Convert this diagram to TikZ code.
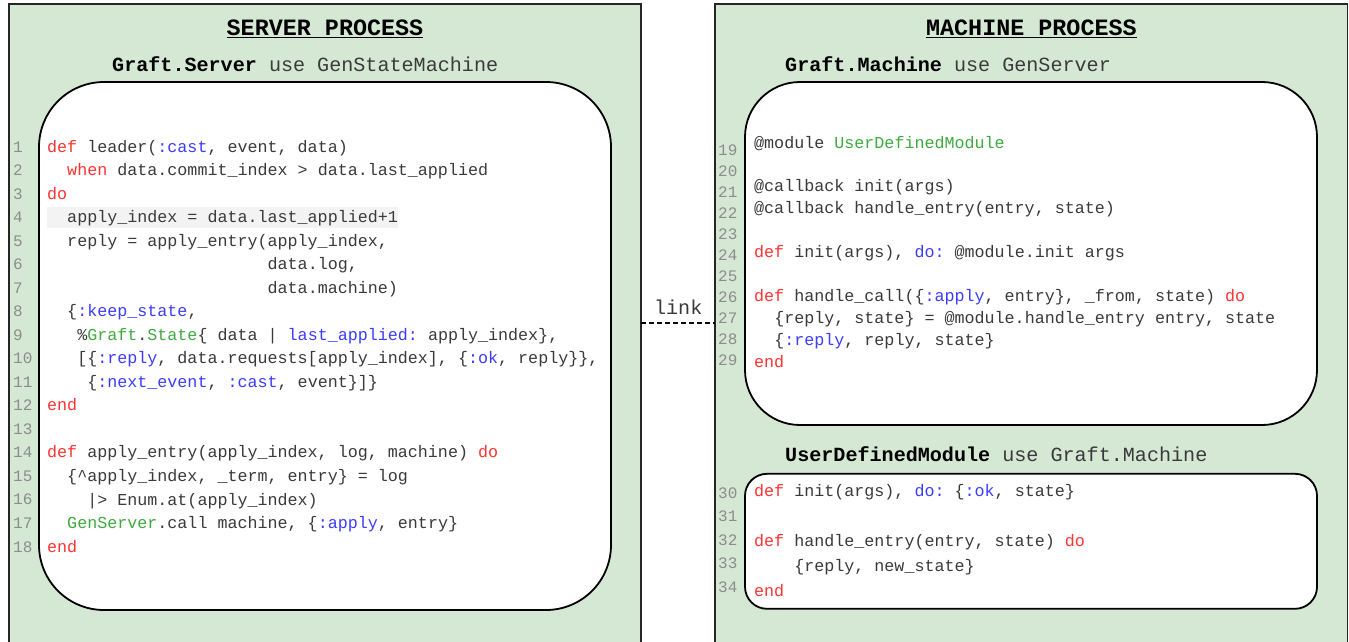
\documentclass[tikz,border=0pt]{standalone}
\usepackage{fontspec}
\setmonofont{Liberation Mono}
\usetikzlibrary{positioning}
\definecolor{boxgreen}{HTML}{D5E8D4}
\definecolor{kwred}{HTML}{FF3333}
\definecolor{atomblue}{HTML}{3C3CFF}
\definecolor{modgreen}{HTML}{3FAA3F}
\definecolor{codegray}{HTML}{3A3A3A}
\definecolor{numgray}{HTML}{8C8C8C}
\definecolor{hlgray}{HTML}{F3F3F3}
\newcommand\kw[1]{\textcolor{kwred}{#1}}
\newcommand\atm[1]{\textcolor{atomblue}{#1}}
\newcommand\grn[1]{\textcolor{modgreen}{#1}}

\begin{document}
\begin{tikzpicture}[x=1pt,y=-1pt]
        \tikzstyle{outerbox}=[fill=boxgreen, inner sep=0pt, minimum width=632pt, minimum height=638pt]
        \tikzstyle{outerline}=[draw=black!85, line width=1.5pt]
        \tikzstyle{codebox}=[draw=black, fill=white, line width=1.8pt, inner sep=0pt, minimum width=572pt]
        \tikzstyle{title}=[anchor=base, inner sep=0pt, font=\ttfamily\bfseries\fontsize{23.4}{28}\selectfont]
        \tikzstyle{subtitle}=[anchor=base west, inner sep=0pt, text=codegray, font=\ttfamily\fontsize{20.1}{24}\selectfont]
        \tikzstyle{code}=[anchor=base west, inner sep=0pt, text=codegray, font=\ttfamily\fontsize{16.7}{20}\selectfont]
        \tikzstyle{lineno}=[anchor=base west, inner sep=0pt, text=numgray, font=\ttfamily\fontsize{16}{19}\selectfont]
        \tikzstyle{linkline}=[draw=black, line width=1.5pt, dash pattern=on 5pt off 3pt]
        \useasboundingbox (0,0) rectangle (1349,642);
        % process boxes, open at the bottom
        \node[outerbox] (server) at (325,323) {};
        \node[outerbox, right=74pt of server] (machine) {};
        \draw[outerline] (server.south west) -- (server.north west) -- (server.north east) -- (server.south east);
        \draw[outerline] (machine.south west) -- (machine.north west) -- (machine.north east) -- (machine.south east);
        \draw[linkline] (server.east) -- node[above=8pt, inner sep=0pt, text=codegray, font=\ttfamily\fontsize{20.1}{24}\selectfont] (linktext) {link} (machine.west);
        \node[title] (srvtitle) at (server.north |- 0,36) {\underline{SERVER PROCESS}};
        \node[title] (mchtitle) at (machine.north |- 0,36) {\underline{MACHINE PROCESS}};
        \node[subtitle] (srvsub) at (112,71) {\textcolor{black}{\textbf{Graft.Server}} use GenStateMachine};
        \node[subtitle] (mchsub) at (785,71) {\textcolor{black}{\textbf{Graft.Machine}} use GenServer};
        \node[subtitle] (usrsub) at (785,461) {\textcolor{black}{\textbf{UserDefinedModule}} use Graft.Machine};
        % code boxes
        \node[codebox, minimum height=528pt, rounded corners=65pt] (srvcode) at (325,346) {};
        \node[codebox, minimum height=343pt, rounded corners=55pt] (mchcode) at (1031,253.5) {};
        \node[codebox, minimum height=135pt, rounded corners=22pt, below=47pt of mchcode] (usrcode) {};
        % line numbers
        \foreach \n in {1,...,18} \node[lineno] (n\n) at (13,{152+(\n-1)*23.53}) {\n};
        \foreach \n in {19,...,29} \node[lineno] (n\n) at (718,{155+(\n-19)*21.0}) {\n};
        \foreach \n in {30,...,34} \node[lineno] (n\n) at (718,{498+(\n-30)*23.5}) {\n};
        % server code
        \node[code] (s1) at (47,152) {\kw{def} leader(\atm{:cast}, event, data)};
        \node[code] (s2) at (47,175.5) {~~\kw{when} data.commit\_index > data.last\_applied};
        \node[code] (s3) at (47,199.1) {\kw{do}};
        \node[code, fill=hlgray, text height=15.5pt, text depth=5.5pt] (s4) at (47,222.6) {~~apply\_index = data.last\_applied+1};
        \node[code] (s5) at (47,246.1) {~~reply = apply\_entry(apply\_index,};
        \node[code] (s6) at (47,269.7) {~~~~~~~~~~~~~~~~~~~~~~data.log,};
        \node[code] (s7) at (47,293.2) {~~~~~~~~~~~~~~~~~~~~~~data.machine)};
        \node[code] (s8) at (47,316.7) {~~\{\atm{:keep\_state},};
        \node[code] (s9) at (47,340.2) {~~~\%\grn{Graft}.\grn{State}\{ data | \atm{last\_applied:} apply\_index\},};
        \node[code] (s10) at (47,363.8) {~~~[\{\atm{:reply}, data.requests[apply\_index], \{\atm{:ok}, reply\}\},};
        \node[code] (s11) at (47,387.3) {~~~~\{\atm{:next\_event}, \atm{:cast}, event\}]\}};
        \node[code] (s12) at (47,410.8) {\kw{end}};
        \node[code] (s14) at (47,457.9) {\kw{def} apply\_entry(apply\_index, log, machine) \kw{do}};
        \node[code] (s15) at (47,481.4) {~~\{\textasciicircum apply\_index, \_term, entry\} = log};
        \node[code] (s16) at (47,505) {~~~~|> Enum.at(apply\_index)};
        \node[code] (s17) at (47,528.5) {~~\grn{GenServer}.call machine, \{\atm{:apply}, entry\}};
        \node[code] (s18) at (47,552) {\kw{end}};
        % machine code
        \node[code] (m19) at (754,148) {@module \grn{UserDefinedModule}};
        \node[code] (m21) at (754,191.8) {@callback init(args)};
        \node[code] (m22) at (754,213.7) {@callback handle\_entry(entry, state)};
        \node[code] (m24) at (754,257.5) {\kw{def} init(args), \atm{do:} @module.init args};
        \node[code] (m26) at (754,301.3) {\kw{def} handle\_call(\{\atm{:apply}, entry\}, \_from, state) \kw{do}};
        \node[code] (m27) at (754,323.2) {~~\{reply, state\} = @module.handle\_entry entry, state};
        \node[code] (m28) at (754,345.1) {~~\{\atm{:reply}, reply, state\}};
        \node[code] (m29) at (754,367) {\kw{end}};
        % user module code
        \node[code] (u30) at (754,496) {\kw{def} init(args), \atm{do:} \{\atm{:ok}, state\}};
        \node[code] (u32) at (754,546) {\kw{def} handle\_entry(entry, state) \kw{do}};
        \node[code] (u33) at (754,571) {~~~~\{reply, new\_state\}};
        \node[code] (u34) at (754,596) {\kw{end}};
\end{tikzpicture}
\end{document}
